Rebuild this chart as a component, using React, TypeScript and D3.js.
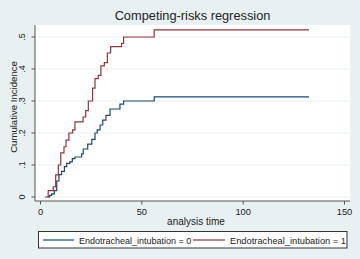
import React from "react";
import * as d3 from "d3";

const title = "Competing-risks regression";
const yTicks = [0, 0.1, 0.2, 0.3, 0.4, 0.5];
const yTickLabels = ["0", ".1", ".2", ".3", ".4", ".5"];
const xTicks = [0, 50, 100, 150];
const seriesNames = ["Endotracheal_intubation = 0", "Endotracheal_intubation = 1"];

const blueTimes = [3.5, 4.5, 5.5, 6.8, 8, 9.1, 10.4, 11.8, 12.9, 14.5, 15.7, 17, 20.3, 21.1, 23.3, 25.3, 26.9, 28, 29.4, 30.7, 32.3, 34.3, 39.2, 41, 56.1, 132.5];
const blueValues = [0, 0.005, 0.01, 0.02, 0.05, 0.07, 0.08, 0.095, 0.105, 0.11, 0.12, 0.125, 0.135, 0.15, 0.165, 0.18, 0.2, 0.21, 0.225, 0.24, 0.255, 0.275, 0.29, 0.3, 0.313, 0.313];

const redTimes = [2.2, 3.8, 6.3, 7.5, 8.8, 10, 11.6, 12.6, 14, 15.9, 17, 21, 22.3, 23.6, 25.7, 26.9, 28.5, 29.8, 31.5, 33, 34.6, 40, 41, 56.1, 132.5];
const redValues = [0, 0.02, 0.032, 0.069, 0.1, 0.138, 0.157, 0.178, 0.2, 0.21, 0.235, 0.25, 0.27, 0.3, 0.34, 0.37, 0.38, 0.41, 0.42, 0.45, 0.47, 0.48, 0.5, 0.522, 0.522];

const colors = ["#1a476f", "#90353b"];

export default function App() {
  const W = 360, H = 259;
  const x = d3.scaleLinear().domain([0, 150]).range([40.5, 344.5]);
  const y = d3.scaleLinear().domain([0, 0.5]).range([197, 37]);
  const plotL = 35, plotR = 350, plotT = 25, plotB = 201;
  const line = d3.line<[number, number]>().x(d => x(d[0])).y(d => y(d[1])).curve(d3.curveStepAfter);
  const blue = blueTimes.map((t, i) => [t, blueValues[i]] as [number, number]);
  const red = redTimes.map((t, i) => [t, redValues[i]] as [number, number]);
  const font = "Liberation Sans, Arial, sans-serif";
  return (
    <svg width={W} height={H} style={{ position: "absolute", left: 0, top: 0 }} fontFamily={font}>
      <rect x={0} y={0} width={W} height={H} fill="#e8f0f2" />
      <rect x={plotL} y={plotT} width={plotR - plotL} height={plotB - plotT} fill="#ffffff" />
      {yTicks.map(v => (
        <line key={"g" + v} x1={plotL} x2={plotR} y1={y(v)} y2={y(v)} stroke="#e8f0f2" strokeWidth={1} />
      ))}
      <path d={line(blue) || ""} fill="none" stroke={colors[0]} strokeWidth={1.2} />
      <path d={line(red) || ""} fill="none" stroke={colors[1]} strokeWidth={1.2} />
      <line x1={plotL} x2={plotL} y1={plotT} y2={plotB} stroke="#555" strokeWidth={1} />
      <line x1={plotL} x2={plotR} y1={plotB} y2={plotB} stroke="#555" strokeWidth={1} />
      {yTicks.map((v, i) => (
        <g key={"yt" + v}>
          <line x1={plotL - 3.5} x2={plotL} y1={y(v)} y2={y(v)} stroke="#555" />
          <text transform={`translate(${24.5},${y(v)}) rotate(-90)`} textAnchor="middle" fontSize={9} fill="#222">{yTickLabels[i]}</text>
        </g>
      ))}
      {xTicks.map(v => (
        <g key={"xt" + v}>
          <line x1={x(v)} x2={x(v)} y1={plotB} y2={plotB + 3.5} stroke="#555" />
          <text x={x(v)} y={215} textAnchor="middle" fontSize={9.3} fill="#222">{v}</text>
        </g>
      ))}
      <text x={196} y={224.5} textAnchor="middle" fontSize={10} fill="#222">analysis time</text>
      <text transform={`translate(${17},${107}) rotate(-90)`} textAnchor="middle" fontSize={9.6} fill="#222">Cumulative Incidence</text>
      <text x={192.5} y={19.5} textAnchor="middle" fontSize={12.8} fill="#222">{title}</text>
      <rect x={38.5} y={231.5} width={308.5} height={16.5} fill="#ffffff" stroke="#333" strokeWidth={1} />
      <line x1={43} x2={74} y1={240} y2={240} stroke={colors[0]} strokeWidth={1.2} />
      <text x={79} y={243.5} fontSize={9} fill="#222">{seriesNames[0]}</text>
      <line x1={193} x2={225} y1={240} y2={240} stroke={colors[1]} strokeWidth={1.2} />
      <text x={230} y={243.5} fontSize={9.3} fill="#222">{seriesNames[1]}</text>
    </svg>
  );
}
